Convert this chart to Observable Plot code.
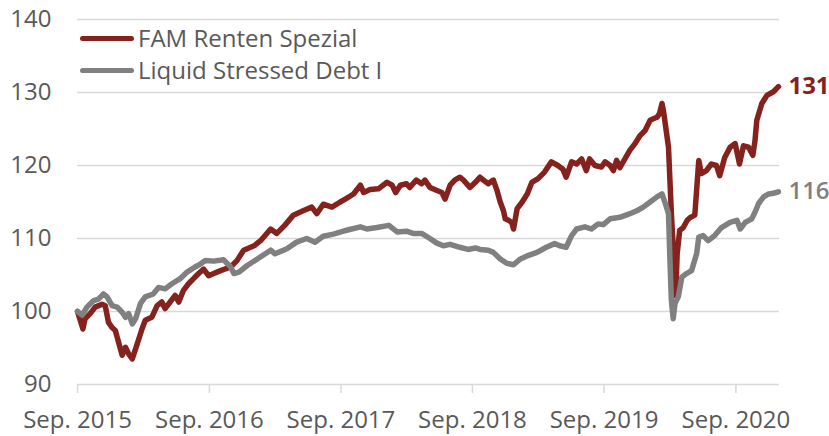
<!DOCTYPE html>
<html>
<head>
<meta charset="utf-8">
<script src="https://cdn.jsdelivr.net/npm/d3@7"></script>
<script src="https://cdn.jsdelivr.net/npm/@observablehq/plot@0.6"></script>
<style>
  html, body { margin: 0; padding: 0; background: #fff; }
  #wrap { position: relative; width: 829px; height: 436px; font-family: "Open Sans", sans-serif; }
  #legend { position: absolute; left: 80px; top: 22px; font-size: 24px; color: #595959; }
  .row { display: flex; align-items: center; height: 32px; line-height: 32px; white-space: nowrap; }
  .sw { width: 54px; height: 5px; border-radius: 3px; margin-right: 4px; }
</style>
</head>
<body>
<div id="wrap"><div id="legend"></div></div>
<script>
const seriesNames = ["FAM Renten Spezial", "Liquid Stressed Debt I"];
const seriesColors = ["#85221e", "#808080"];

const famDates = ["2015-09-01","2015-09-16","2015-09-22","2015-10-06","2015-10-20","2015-11-08","2015-11-17","2015-11-26","2015-12-06","2015-12-15","2015-12-24","2016-01-03","2016-01-12","2016-01-21","2016-01-31","2016-02-14","2016-02-27","2016-03-07","2016-03-25","2016-04-09","2016-04-22","2016-05-01","2016-05-15","2016-05-29","2016-06-08","2016-06-21","2016-07-05","2016-07-19","2016-08-02","2016-08-16","2016-08-30","2016-09-13","2016-10-02","2016-10-30","2016-11-17","2016-12-05","2017-01-03","2017-01-21","2017-02-18","2017-03-07","2017-03-29","2017-04-22","2017-05-19","2017-06-12","2017-06-26","2017-07-14","2017-08-07","2017-08-30","2017-09-13","2017-10-06","2017-10-25","2017-11-03","2017-11-21","2017-12-14","2018-01-07","2018-01-21","2018-01-31","2018-02-13","2018-03-02","2018-03-11","2018-03-29","2018-04-13","2018-04-22","2018-05-06","2018-05-24","2018-06-08","2018-06-17","2018-07-01","2018-07-14","2018-07-28","2018-08-07","2018-08-25","2018-09-09","2018-09-22","2018-10-01","2018-10-15","2018-10-29","2018-11-08","2018-11-17","2018-11-26","2018-12-01","2018-12-10","2018-12-19","2018-12-24","2019-01-03","2019-01-17","2019-01-31","2019-02-13","2019-03-02","2019-03-20","2019-04-08","2019-04-26","2019-05-10","2019-05-19","2019-06-03","2019-06-17","2019-07-01","2019-07-14","2019-07-23","2019-08-07","2019-08-25","2019-09-04","2019-09-18","2019-09-27","2019-10-06","2019-10-15","2019-10-29","2019-11-12","2019-11-26","2019-12-10","2019-12-24","2020-01-07","2020-01-16","2020-01-26","2020-02-02","2020-02-09","2020-02-13","2020-02-18","2020-02-27","2020-03-02","2020-03-06","2020-03-11","2020-03-16","2020-03-18","2020-03-22","2020-03-29","2020-04-08","2020-04-19","2020-04-28","2020-05-10","2020-05-15","2020-05-21","2020-05-28","2020-06-11","2020-06-25","2020-07-09","2020-07-18","2020-08-01","2020-08-16","2020-08-30","2020-09-11","2020-09-22","2020-10-06","2020-10-18","2020-10-24","2020-10-29","2020-11-12","2020-11-26","2020-12-14","2020-12-28"];
const famValues = [100.0,97.6,99.0,99.7,100.6,101.0,100.8,98.5,97.8,97.4,95.8,94.0,95.1,94.2,93.5,95.6,97.6,98.8,99.2,100.8,101.3,100.4,101.3,102.2,101.3,102.9,103.8,104.5,105.2,105.8,104.9,105.2,105.6,106.1,107.0,108.4,109.0,109.7,111.3,110.7,111.8,113.2,113.8,114.3,113.4,114.7,114.3,115.0,115.4,116.1,117.3,116.3,116.7,116.8,117.7,117.3,116.3,117.3,117.5,117.0,118.0,117.5,118.0,117.0,116.6,116.3,115.4,117.3,118.0,118.4,118.0,117.0,117.7,118.4,118.0,117.5,118.0,116.6,115.0,113.8,112.7,112.5,112.2,111.3,114.1,115.0,116.1,117.7,118.2,119.1,120.5,120.0,119.5,118.4,120.5,120.2,120.9,119.3,120.9,120.0,119.8,120.5,120.0,119.3,120.7,119.7,120.9,122.1,123.0,124.1,124.8,126.2,126.4,126.6,127.1,128.5,127.5,125.7,122.5,117.9,113.4,108.8,103.3,102.2,107.9,111.1,111.5,112.5,112.9,113.2,116.6,120.7,118.9,119.3,120.2,120.0,118.6,121.1,122.5,123.0,120.2,122.7,122.5,121.4,123.4,126.2,128.5,129.6,130.1,130.8];

const lsdDates = ["2015-09-01","2015-09-14","2015-09-27","2015-10-16","2015-10-29","2015-11-12","2015-11-22","2015-12-06","2015-12-20","2016-01-03","2016-01-12","2016-01-21","2016-01-31","2016-02-09","2016-02-23","2016-03-07","2016-03-29","2016-04-13","2016-05-01","2016-05-20","2016-06-12","2016-07-01","2016-07-23","2016-08-07","2016-08-21","2016-09-13","2016-10-10","2016-10-30","2016-11-08","2016-11-22","2016-12-15","2017-01-12","2017-02-18","2017-03-02","2017-04-04","2017-05-01","2017-05-29","2017-06-21","2017-07-14","2017-08-11","2017-09-08","2017-09-22","2017-10-25","2017-11-12","2017-12-10","2018-01-12","2018-02-04","2018-03-02","2018-03-20","2018-04-13","2018-05-06","2018-05-24","2018-06-12","2018-07-01","2018-07-28","2018-08-20","2018-09-09","2018-09-22","2018-10-15","2018-10-29","2018-11-17","2018-12-05","2018-12-24","2019-01-12","2019-02-04","2019-02-27","2019-03-25","2019-04-17","2019-05-01","2019-05-19","2019-06-03","2019-06-17","2019-07-10","2019-07-28","2019-08-16","2019-08-30","2019-09-18","2019-10-15","2019-11-12","2019-12-01","2019-12-19","2020-01-07","2020-01-26","2020-02-09","2020-02-18","2020-02-27","2020-03-02","2020-03-06","2020-03-11","2020-03-16","2020-03-25","2020-04-04","2020-04-17","2020-05-01","2020-05-15","2020-05-21","2020-06-02","2020-06-16","2020-07-04","2020-07-23","2020-08-16","2020-09-04","2020-09-13","2020-09-27","2020-10-15","2020-10-24","2020-11-03","2020-11-17","2020-12-01","2020-12-14","2020-12-28"];
const lsdValues = [100.0,99.5,100.6,101.5,101.7,102.4,102.0,100.8,100.6,99.9,99.2,99.7,98.3,99.0,101.1,102.0,102.4,103.3,103.1,103.8,104.5,105.4,106.1,106.5,107.0,106.9,107.1,106.1,105.2,105.4,106.3,107.2,108.4,107.9,108.6,109.5,110.0,109.5,110.3,110.6,111.0,111.2,111.6,111.3,111.5,111.8,110.9,111.0,110.7,110.7,110.0,109.4,109.0,109.2,108.8,108.5,108.7,108.5,108.4,108.1,107.2,106.6,106.4,107.2,107.7,108.1,108.8,109.3,109.0,108.8,110.4,111.3,111.6,111.3,112.0,111.9,112.7,112.9,113.4,113.8,114.3,115.0,115.7,116.1,114.8,113.4,107.0,101.5,99.0,101.1,102.0,104.7,105.2,105.6,107.9,110.2,110.4,109.7,110.4,111.5,112.2,112.5,111.3,112.2,112.7,113.6,114.8,115.7,116.1,116.2,116.4];

const xTicks = ["2015-09-01","2016-09-01","2017-09-01","2018-09-01","2019-09-01","2020-09-01"];
const xTickLabels = ["Sep. 2015","Sep. 2016","Sep. 2017","Sep. 2018","Sep. 2019","Sep. 2020"];
const yTicks = [90, 100, 110, 120, 130, 140];
const endLabelWeights = ["bold", "600"];

const parse = d3.utcParse("%Y-%m-%d");
const data = [
  ...famDates.map((d, i) => ({date: parse(d), value: famValues[i], series: seriesNames[0]})),
  ...lsdDates.map((d, i) => ({date: parse(d), value: lsdValues[i], series: seriesNames[1]}))
];
const tickDates = xTicks.map(parse);
const labelFor = new Map(tickDates.map((d, i) => [+d, xTickLabels[i]]));

const marks = [
  Plot.ruleY(yTicks, {stroke: "#d9d9d9", strokeWidth: 1.5}),
  Plot.axisX({ticks: tickDates, tickFormat: d => labelFor.get(+d), tickSize: 9, tickPadding: 17, label: null,
    stroke: "#d9d9d9", strokeWidth: 1.5, fill: "#595959", fontSize: 24, strokeOpacity: 1}),
  Plot.axisY({ticks: yTicks, tickSize: 0, tickPadding: 26, label: null, fill: "#595959", fontSize: 24})
];
seriesNames.forEach((name, i) => {
  const rows = data.filter(d => d.series === name);
  marks.push(Plot.line(rows, {x: "date", y: "value", stroke: seriesColors[i], strokeWidth: 5.5,
    strokeLinejoin: "round", strokeLinecap: "round"}));
});
seriesNames.forEach((name, i) => {
  const rows = data.filter(d => d.series === name);
  marks.push(Plot.text(rows, Plot.selectLast({x: "date", y: "value", text: d => String(Math.round(d.value)),
    fill: seriesColors[i], fontSize: 24, fontWeight: endLabelWeights[i], textAnchor: "start", dx: 10})));
});

const chart = Plot.plot({
  width: 829,
  height: 436,
  marginLeft: 77,
  marginRight: 50,
  marginTop: 19,
  marginBottom: 52,
  style: {fontFamily: "Open Sans, sans-serif", background: "white", overflow: "visible"},
  x: {type: "utc", domain: [parse("2015-09-01"), parse("2020-12-31")], label: null},
  y: {domain: [90, 140], label: null},
  marks
});
const wrap = document.getElementById("wrap");
wrap.insertBefore(chart, wrap.firstChild);

const legend = document.getElementById("legend");
seriesNames.forEach((name, i) => {
  const row = document.createElement("div");
  row.className = "row";
  const sw = document.createElement("span");
  sw.className = "sw";
  sw.style.background = seriesColors[i];
  const t = document.createElement("span");
  t.textContent = name;
  row.appendChild(sw);
  row.appendChild(t);
  legend.appendChild(row);
});
</script>
</body>
</html>
